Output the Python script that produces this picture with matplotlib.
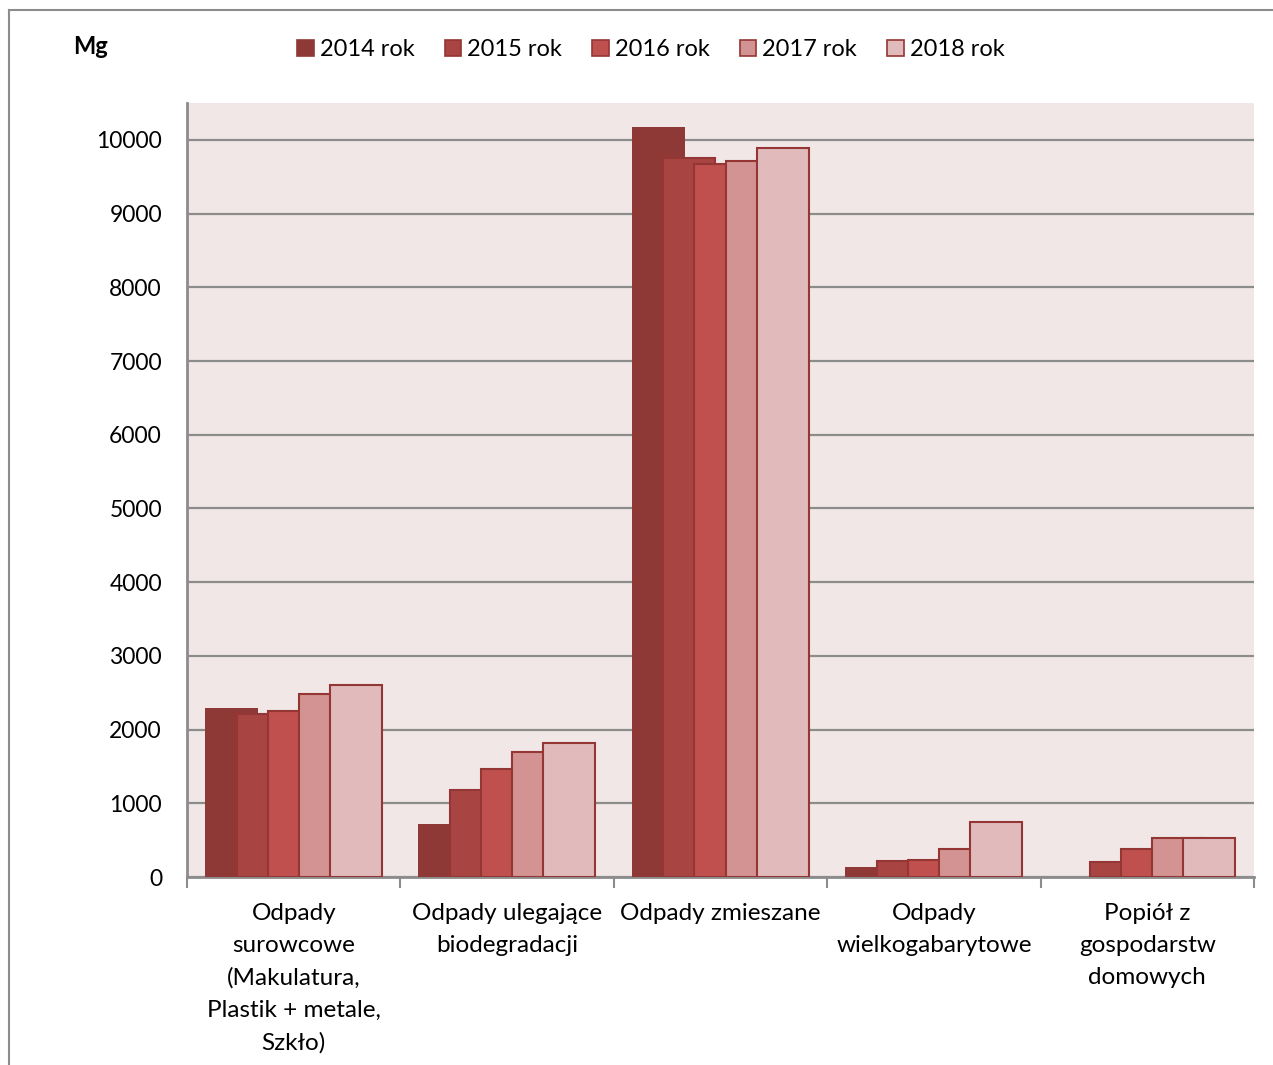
import matplotlib
matplotlib.use("Agg")
import matplotlib.pyplot as plt
import numpy as np
from matplotlib.patches import Patch
from matplotlib.lines import Line2D

plt.rcParams['font.family'] = ['Lato', 'DejaVu Sans']

categories = ["Odpady\nsurowcowe\n(Makulatura,\nPlastik + metale,\nSzkło)",
              "Odpady ulegające\nbiodegradacji",
              "Odpady zmieszane",
              "Odpady\nwielkogabarytowe",
              "Popiół z\ngospodarstw\ndomowych"]
series_names = ["2014 rok", "2015 rok", "2016 rok", "2017 rok", "2018 rok"]
v2014 = [2290, 715, 10170, 140, 0]
v2015 = [2205, 1180, 9760, 213, 208]
v2016 = [2255, 1460, 9670, 226, 384]
v2017 = [2478, 1700, 9715, 375, 529]
v2018 = [2610, 1818, 9887, 746, 530]
series_values = [v2014, v2015, v2016, v2017, v2018]
yticks = [0, 1000, 2000, 3000, 4000, 5000, 6000, 7000, 8000, 9000, 10000]

colors = ['#8F3937', '#A84543', '#C0504D', '#D39392', '#E1BBBC']
edge = '#943634'

W, H = 1273, 1065
fig = plt.figure(figsize=(W / 100, H / 100), dpi=100)
ax = fig.add_axes([187 / W, 1 - 877 / H, (1254 - 187) / W, (877 - 103) / H])
ax.set_facecolor('#F2E7E7')

x = np.arange(len(categories))
step = 0.1453
bw = 0.2437
for i, (name, vals) in enumerate(zip(series_names, series_values)):
    if i == 0:
        ax.bar(x + (i - 2) * step, vals, width=bw + 0.007, color=colors[i],
               linewidth=0, zorder=3 + i, label=name)
    else:
        ax.bar(x + (i - 2) * step, vals, width=bw, color=colors[i],
               edgecolor=edge, linewidth=1.5, zorder=3 + i, label=name)

ax.set_xlim(-0.5, len(categories) - 0.5)
ax.set_ylim(0, 10500)
ax.set_yticks(yticks)
ax.set_yticklabels([str(t) for t in yticks], fontsize=16.5)
ax.tick_params(axis='y', length=0, pad=18)
ax.yaxis.grid(True, color='#8C8C8C', linewidth=1.6, zorder=1)
ax.set_axisbelow(True)

ax.set_xticks(x)
ax.set_xticklabels(categories, fontsize=17.5, linespacing=1.64, va='top')
ax.tick_params(axis='x', length=0, pad=19)
ax.set_xticks(np.arange(-0.5, len(categories)), minor=True)
ax.tick_params(axis='x', which='minor', length=8, width=1.5, color='#8C8C8C', direction='out')

for s in ['top', 'right']:
    ax.spines[s].set_visible(False)
for s in ['left', 'bottom']:
    ax.spines[s].set_color('#8C8C8C')
    ax.spines[s].set_linewidth(2)

handles = [Patch(facecolor=colors[i], edgecolor=edge if i > 0 else colors[0], linewidth=1.2)
           for i in range(5)]
fig.legend(handles, series_names, loc='center', bbox_to_anchor=(651 / W, 1 - 50 / H),
           ncol=5, frameon=False, fontsize=17, handlelength=0.7, handleheight=0.7,
           handletextpad=0.25, columnspacing=1.28)

fig.text(73 / W, 1 - 46 / H, "Mg", fontsize=17, fontweight='bold', va='center', ha='left')

# outer frame lines
fig.add_artist(Line2D([8.5 / W, 8.5 / W], [0, 1 - 10 / H], color='#8C8C8C', linewidth=1.5))
fig.add_artist(Line2D([8.5 / W, 1], [1 - 10 / H, 1 - 10 / H], color='#8C8C8C', linewidth=1.5))

fig.savefig("out.png", dpi=100)
